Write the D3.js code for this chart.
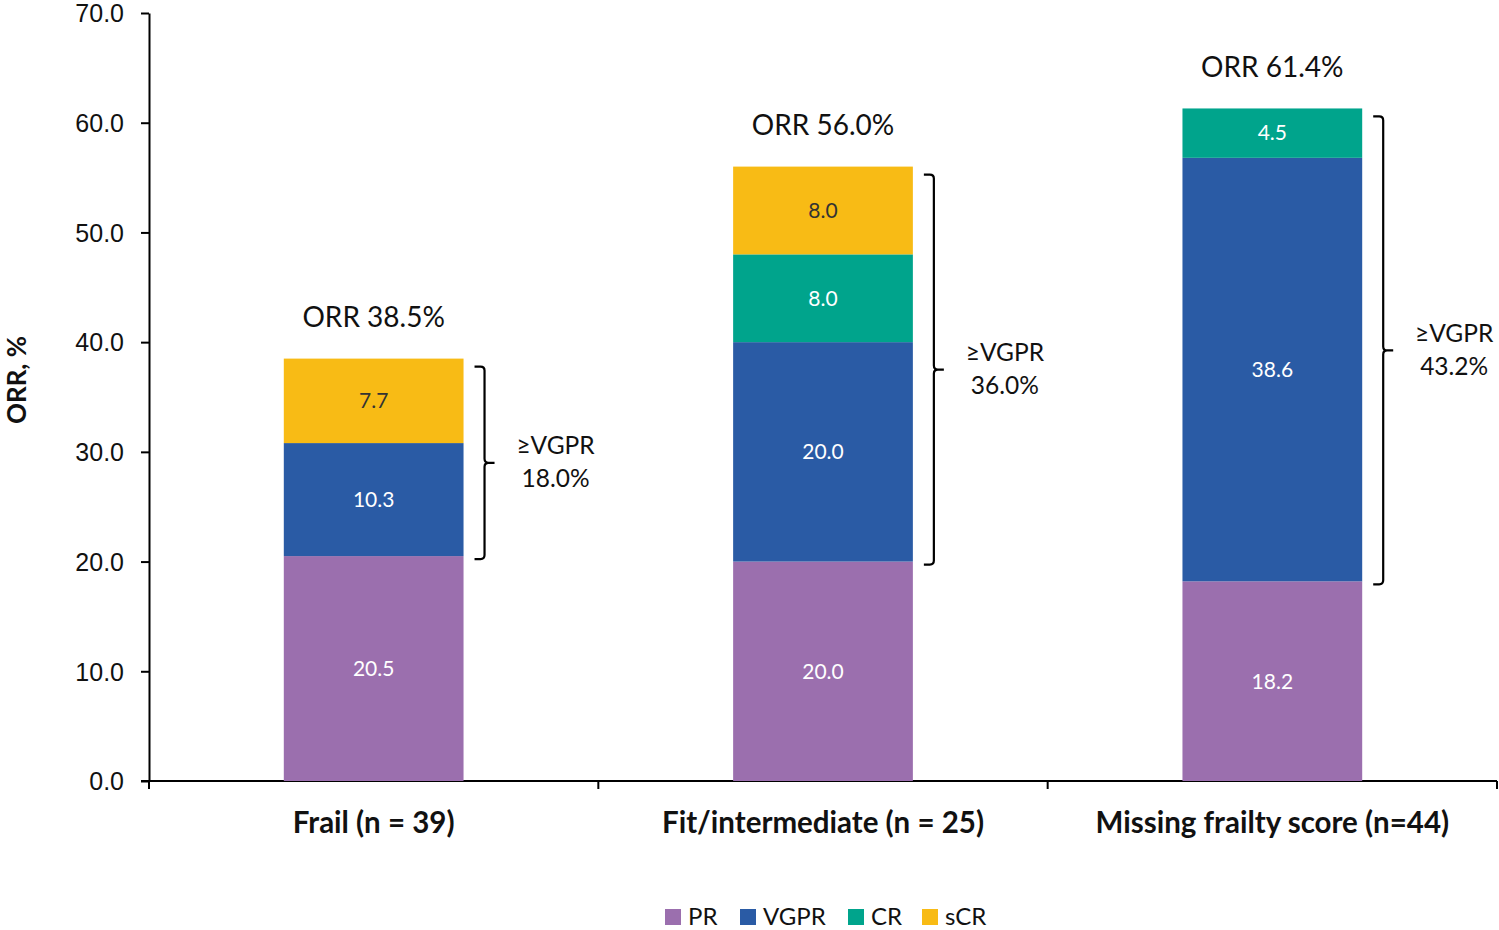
<!DOCTYPE html>
<html><head><meta charset="utf-8">
<script src="https://cdn.jsdelivr.net/npm/d3@7"></script>
<style>body{margin:0;background:#fff;} svg{display:block;font-family:Lato,"Open Sans",sans-serif;}</style>
</head><body>
<svg id="c" width="1499" height="930"></svg>
<script>
const categories = ["Frail (n = 39)", "Fit/intermediate (n = 25)", "Missing frailty score (n=44)"];
const seriesNames = ["PR", "VGPR", "CR", "sCR"];
const PR = [20.5, 20.0, 18.2];
const VGPR = [10.3, 20.0, 38.6];
const CR = [0, 8.0, 4.5];
const sCR = [7.7, 8.0, 0];
const orrLabels = ["ORR 38.5%", "ORR 56.0%", "ORR 61.4%"];
const vgprLabels = ["18.0%", "36.0%", "43.2%"];
const yTicks = [0, 10, 20, 30, 40, 50, 60, 70];
const colors = {PR: "#9b6fae", VGPR: "#2a5ba5", CR: "#00a48c", sCR: "#f8bb15"};
const labelColors = {PR: "#fff", VGPR: "#fff", CR: "#fff", sCR: "#333"};

const svg = d3.select("#c");
const x0 = 149, x1 = 1497, yTop = 13, yBot = 781;
const x = d3.scaleBand().domain(categories).range([x0, x1]).paddingInner(0.6).paddingOuter(0.3);
const y = d3.scaleLinear().domain([0, 70]).range([yBot, yTop]);

const rows = categories.map((c, i) => ({cat: c, PR: PR[i], VGPR: VGPR[i], CR: CR[i], sCR: sCR[i]}));
const stacked = d3.stack().keys(seriesNames)(rows);

// axes
const yAxis = d3.axisLeft(y).tickValues(yTicks).tickFormat(d3.format(".1f")).tickSize(8).tickSizeOuter(0);
const gy = svg.append("g").attr("transform", `translate(${x0},0)`).call(yAxis);
gy.select(".domain").attr("stroke", "#000").attr("stroke-width", 2);
gy.selectAll(".tick line").attr("stroke", "#000").attr("stroke-width", 2);
gy.selectAll(".tick text").attr("font-size", 25).attr("fill", "#111").attr("x", -25).attr("dy", "0.35em");

const xb = d3.scaleLinear().domain([0, 3]).range([x0, x1]);
svg.append("line").attr("x1", x0 - 8).attr("x2", x1).attr("y1", yBot).attr("y2", yBot).attr("stroke", "#000").attr("stroke-width", 2);
[0, 1, 2, 3].forEach(k => {
  svg.append("line").attr("x1", xb(k)).attr("x2", xb(k)).attr("y1", yBot).attr("y2", yBot + 8).attr("stroke", "#000").attr("stroke-width", 2);
});
svg.append("g").selectAll("text").data(categories).join("text")
  .attr("x", d => x(d) + x.bandwidth() / 2).attr("y", 833)
  .attr("text-anchor", "middle").attr("font-size", 29.5).attr("font-weight", "bold").attr("fill", "#111")
  .text(d => d);

svg.append("text").attr("transform", "translate(26,380) rotate(-90)")
  .attr("text-anchor", "middle").attr("font-size", 26).attr("font-weight", "bold").attr("fill", "#111").text("ORR, %");

// bars
stacked.forEach(s => {
  const g = svg.append("g");
  s.forEach((d, i) => {
    const v = d[1] - d[0];
    if (v <= 0) return;
    const xx = x(categories[i]);
    g.append("rect").attr("x", xx).attr("width", x.bandwidth())
      .attr("y", y(d[1])).attr("height", y(d[0]) - y(d[1])).attr("fill", colors[s.key]);
    g.append("text").attr("x", xx + x.bandwidth() / 2).attr("y", (y(d[0]) + y(d[1])) / 2)
      .attr("dy", "0.35em").attr("text-anchor", "middle").attr("font-size", 21)
      .attr("fill", labelColors[s.key]).text(v.toFixed(1));
  });
});

// ORR labels and braces
categories.forEach((c, i) => {
  const total = PR[i] + VGPR[i] + CR[i] + sCR[i];
  const cx = x(c) + x.bandwidth() / 2;
  svg.append("text").attr("x", cx).attr("y", y(total) - 41).attr("dy", "0.35em")
    .attr("text-anchor", "middle").attr("font-size", 28).attr("fill", "#111").text(orrLabels[i]);
  const bx = x(c) + x.bandwidth() + 21;
  const t = y(total) + 8, b = y(PR[i]) + 3, m = (t + b) / 2;
  const r = 4;
  const p = `M${bx - 10},${t} L${bx - r},${t} Q${bx},${t} ${bx},${t + r} L${bx},${m - r} Q${bx},${m} ${bx + r},${m} L${bx + 10},${m} M${bx + r},${m} Q${bx},${m} ${bx},${m + r} L${bx},${b - r} Q${bx},${b} ${bx - r},${b} L${bx - 10},${b}`;
  svg.append("path").attr("d", p).attr("fill", "none").attr("stroke", "#000").attr("stroke-width", 2.2);
  const tx = bx + 71;
  svg.append("text").attr("x", tx).attr("y", m - 17).attr("dy", "0.35em").attr("text-anchor", "middle")
    .attr("font-size", 24.5).attr("fill", "#111").text("\u2265VGPR");
  svg.append("text").attr("x", tx).attr("y", m + 16).attr("dy", "0.35em").attr("text-anchor", "middle")
    .attr("font-size", 24.5).attr("fill", "#111").text(vgprLabels[i]);
});

// legend
const legX = [665, 740, 848, 922];
const lg = svg.append("g");
seriesNames.forEach((s, i) => {
  lg.append("rect").attr("x", legX[i]).attr("y", 909).attr("width", 16).attr("height", 16).attr("fill", colors[s]);
  lg.append("text").attr("x", legX[i] + 23).attr("y", 917).attr("dy", "0.35em").attr("font-size", 24).attr("fill", "#111").text(s);
});
</script>
</body></html>
